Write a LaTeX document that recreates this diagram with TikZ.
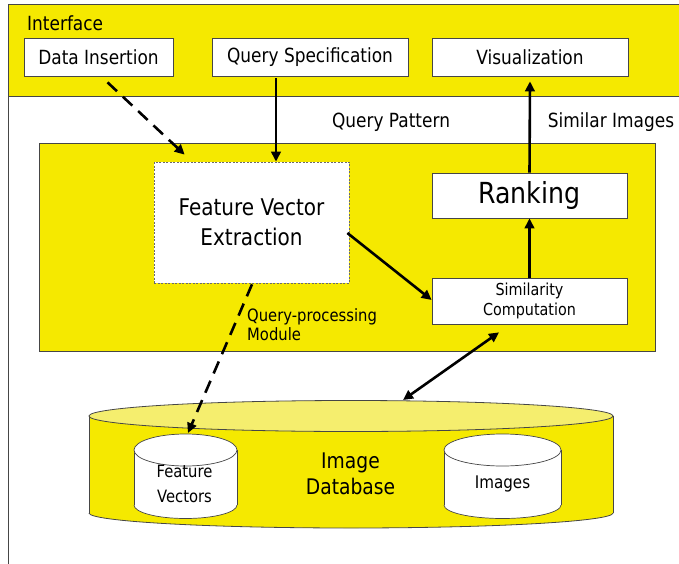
\documentclass[tikz,border=0pt]{standalone}
\usepackage{fontspec}
\setmainfont{DejaVu Sans}[FakeStretch=0.87]
\usetikzlibrary{arrows.meta}
\definecolor{ylw}{RGB}{245,233,0}
\definecolor{lylw}{RGB}{245,238,110}
\definecolor{edge}{RGB}{70,70,70}
\newcommand{\fsz}[2]{\fontsize{#1}{#2}\selectfont}
\begin{document}
\begin{tikzpicture}[x=1pt,y=-1pt,
  box/.style={draw=edge, fill=white, line width=0.7pt, inner sep=0pt, align=center},
  arr/.style={line width=2.6pt, -{Triangle[length=10pt,width=9.5pt]}},
  darr/.style={arr, dash pattern=on 13pt off 8pt},
  dbl/.style={line width=2.6pt, {Triangle[length=10pt,width=9.5pt]}-{Triangle[length=10pt,width=9.5pt]}},
  lbl/.style={inner sep=0pt, align=center}]
\useasboundingbox (0,0) rectangle (679,564);
% interface band
\fill[ylw] (8,5) rectangle (679,97);
\draw[line width=1pt, edge] (679,5) -- (8,5) -- (8,564);
\draw[line width=1pt, edge] (8,97) -- (679,97);
\node[lbl, anchor=base west, font=\fsz{19.5}{20}] (iface) at (27,31) {Interface};
\node[box, minimum width=149, minimum height=38, font=\fsz{19.5}{20}] (di) at (98.5,57) {Data Insertion};
\node[box, minimum width=196, minimum height=38, font=\fsz{19.5}{20}] (qs) at (310,57) {Query Specification};
\node[box, minimum width=196, minimum height=38, font=\fsz{19.5}{20}] (vis) at (530,57) {Visualization};
\node[lbl, font=\fsz{19.5}{20}] (qp) at (391,122) {Query Pattern};
\node[lbl, font=\fsz{19.5}{20}] (si) at (611,122) {Similar Images};
% query-processing module
\node[draw=edge, fill=ylw, line width=0.8pt, minimum width=616, minimum height=208, inner sep=0pt] (qpm) at (347,247) {};
\node[box, draw=edge!80, dash pattern=on 2pt off 1.5pt, minimum width=195, minimum height=121, font=\fsz{23}{30}] (fve) at (251.5,222.5) {Feature Vector\\Extraction};
\node[box, minimum width=195, minimum height=45, font=\fsz{29}{30}] (rk) at (529.5,195.5) {Ranking};
\node[box, minimum width=195, minimum height=46, font=\fsz{16.5}{20}] (sim) at (529.5,301) {Similarity\\Computation};
\node[lbl, anchor=base west, align=left, font=\fsz{17}{18.5}] (qpml) at (247,340) {Query-processing\\Module};
% database cylinder
\fill[ylw] (89,416) rectangle (613,513);
\fill[ylw] (351,513) ellipse[x radius=262, y radius=15];
\begin{scope}
  \clip (80,513) rectangle (630,540);
  \draw[edge, line width=0.8pt] (351,513) ellipse[x radius=262, y radius=15];
\end{scope}
\draw[edge, line width=0.8pt] (89,416) -- (89,513) (613,416) -- (613,513);
\draw[edge, line width=0.8pt, fill=lylw] (351,416) ellipse[x radius=262, y radius=15.5];
\coordinate (dbtop) at (403,400);
\node[lbl, font=\fsz{21.5}{26}] (db) at (350.5,474) {Image\\Database};
% small cylinders
\foreach \cx/\rx in {185.5/51.5, 502.5/58.5} {
  \fill[white] (\cx-\rx,450) rectangle (\cx+\rx,505);
  \fill[white] (\cx,505) ellipse[x radius=\rx, y radius=13.5];
  \begin{scope}
    \clip (\cx-\rx-5,505) rectangle (\cx+\rx+5,525);
    \draw[edge, line width=0.7pt] (\cx,505) ellipse[x radius=\rx, y radius=13.5];
  \end{scope}
  \draw[edge, line width=0.7pt] (\cx-\rx,450) -- (\cx-\rx,505) (\cx+\rx,450) -- (\cx+\rx,505);
  \draw[edge, line width=0.7pt, fill=white] (\cx,450) ellipse[x radius=\rx, y radius=16];
}
\coordinate (fvtop) at (188,433);
\node[lbl, font=\fsz{17}{25}] (fv) at (184.5,484) {Feature\\Vectors};
\node[lbl, font=\fsz{17.4}{20}] (img) at (502.5,484) {Images};
% connectors
\draw[darr] ([shift={(9,6)}]di.south) -- ([shift={(31,-7)}]fve.north west);
\draw[arr] ([shift={(-34,2)}]qs.south) -- ([xshift=24.5pt]fve.north);
\draw[arr] (rk.north) -- ([yshift=-5pt]vis.south);
\draw[arr] (sim.north) -- (rk.south);
\draw[arr] ([shift={(-2,10.5)}]fve.east) -- ([shift={(0,-1)}]sim.west);
\draw[dbl] (dbtop) -- ([shift={(-30.5,8)}]sim.south);
\draw[darr] ([shift={(0.5,1)}]fve.south) -- (fvtop);
\end{tikzpicture}
\end{document}
